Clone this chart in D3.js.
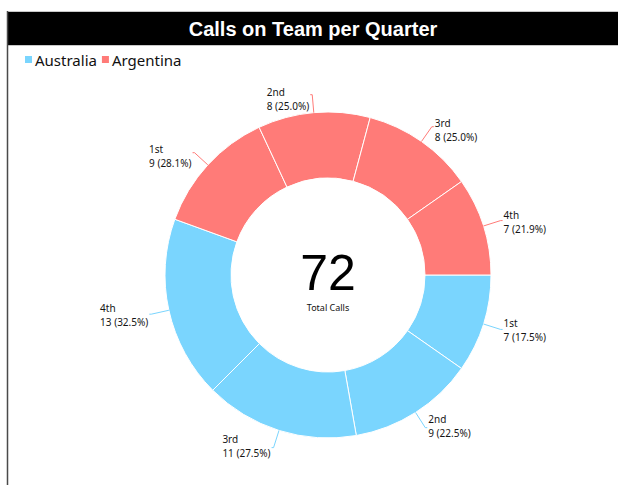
<!DOCTYPE html>
<html>
<head>
<meta charset="utf-8">
<script src="https://cdn.jsdelivr.net/npm/d3@7"></script>
<style>
  html, body { margin: 0; padding: 0; background: #fff; }
  svg { display: block; }
</style>
</head>
<body>
<svg id="chart" width="618" height="485"></svg>
<script>
const title = "Calls on Team per Quarter";
const teams = ["Australia", "Argentina"];
const teamColors = ["#7ad5fe", "#ff7b78"];
const quarters = ["1st", "2nd", "3rd", "4th"];
const australiaCalls = [7, 9, 11, 13];
const argentinaCalls = [9, 8, 8, 7];
const centerLabel = "Total Calls";

const svg = d3.select("#chart");
const W = 618, H = 485;

// frame
svg.append("rect").attr("x", 7).attr("y", 11).attr("width", W - 7).attr("height", 35).attr("fill", "#c8c8c8");
svg.append("rect").attr("x", 7).attr("y", 12).attr("width", W - 7).attr("height", 33).attr("fill", "#000");
svg.append("line").attr("x1", 7.5).attr("x2", 7.5).attr("y1", 11).attr("y2", H)
  .attr("stroke", "#4a4a4a").attr("stroke-width", 1.5);
svg.append("text").attr("x", 313).attr("y", 28.5)
  .attr("text-anchor", "middle").attr("dominant-baseline", "central")
  .attr("fill", "#fff").attr("font-family", "Liberation Sans, Arial, sans-serif")
  .attr("font-weight", "bold").attr("font-size", 20).text(title);

// legend
const legend = svg.append("g").attr("font-family", "Noto Sans, sans-serif").attr("font-size", 15);
let lx = 25;
teams.forEach((t, i) => {
  legend.append("rect").attr("x", lx).attr("y", 56).attr("width", 7).attr("height", 7).attr("fill", teamColors[i]);
  const tx = legend.append("text").attr("x", lx + 10).attr("y", 66).attr("fill", "#111").text(t);
  lx = lx + 10 + tx.node().getComputedTextLength() + 5;
});

// data
const slices = [];
[australiaCalls, argentinaCalls].forEach((arr, ti) => {
  const total = d3.sum(arr);
  arr.forEach((v, qi) => slices.push({team: teams[ti], ti, quarter: quarters[qi], value: v, pct: v / total * 100}));
});
const grandTotal = d3.sum(slices, d => d.value);

const cx = 328, cy = 275, rOuter = 163, rInner = 97;
const color = d3.scaleOrdinal().domain(teams).range(teamColors);
const pie = d3.pie().value(d => d.value).sort(null).startAngle(Math.PI / 2).endAngle(Math.PI / 2 + 2 * Math.PI);
const arc = d3.arc().innerRadius(rInner).outerRadius(rOuter);
const arcs = pie(slices);

const g = svg.append("g").attr("transform", `translate(${cx},${cy})`);
g.selectAll("path.slice").data(arcs).join("path")
  .attr("class", "slice")
  .attr("d", arc)
  .attr("fill", d => color(d.data.team))
  .attr("stroke", "#fff").attr("stroke-width", 1);

// labels
const lg = g.append("g").attr("font-family", "Noto Sans, sans-serif").attr("font-size", 10).attr("fill", "#151515");
arcs.forEach(d => {
  const a = (d.startAngle + d.endAngle) / 2;
  const s = Math.sin(a), c = Math.cos(a);
  const p1 = [rOuter * s, -rOuter * c];
  const p2 = [(rOuter + 18) * s, -(rOuter + 18) * c];
  const p3 = [p2[0] + (s >= 0 ? 2 : -2), p2[1]];
  lg.append("polyline").attr("points", [p1, p2, p3].map(p => p.join(",")).join(" "))
    .attr("fill", "none").attr("stroke", color(d.data.team)).attr("stroke-width", 1);
  const t = lg.append("text");
  const by = p2[1] - 2 + 3 * c;
  const l1 = t.append("tspan").attr("y", by).text(d.data.quarter);
  const l2 = t.append("tspan").attr("y", by + 14).text(`${d.data.value} (${d.data.pct.toFixed(1)}%)`);
  const w = Math.max(l1.node().getComputedTextLength(), l2.node().getComputedTextLength());
  const x0 = s >= 0 ? p3[0] + 1 : p3[0] - 1 - w;
  l1.attr("x", x0); l2.attr("x", x0);
});

// center
g.append("text").attr("x", 0).attr("y", 15).attr("text-anchor", "middle")
  .attr("font-family", "Liberation Sans Narrow, Liberation Sans, sans-serif").attr("font-size", 50).attr("fill", "#000").text(grandTotal);
g.append("text").attr("x", 0).attr("y", 36).attr("text-anchor", "middle")
  .attr("font-family", "Noto Sans, sans-serif").attr("font-size", 9).attr("fill", "#111").text(centerLabel);
</script>
</body>
</html>
